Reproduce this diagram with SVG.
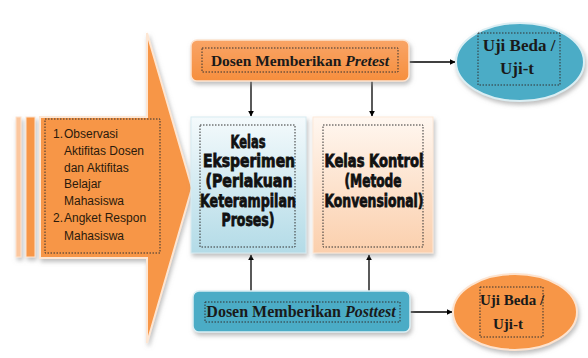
<svg xmlns="http://www.w3.org/2000/svg" width="588" height="358" viewBox="0 0 588 358">
<defs>
<style>
.ser{font-family:"Liberation Serif","Times New Roman",serif;font-weight:bold;fill:#1a1a1a;text-anchor:middle}
.cls{font-family:"DejaVu Sans Condensed","Roboto",sans-serif;font-weight:bold;font-size:18px;fill:#111;stroke:#111;stroke-width:0.8;text-anchor:middle}
.lft{font-family:"Liberation Sans",Arial,sans-serif;font-size:12px;fill:#2a1a0c}
.dot{fill:none;stroke:#333;stroke-width:1;stroke-dasharray:1.5 1.5}
.con{stroke:#000;stroke-width:1.3;fill:none;marker-end:url(#ah)}
</style>
<marker id="ah" viewBox="0 0 10 10" refX="9" refY="5" markerWidth="6" markerHeight="6" orient="auto" markerUnits="userSpaceOnUse">
<path d="M0,0 L10,5 L0,10 z" fill="#000"/>
</marker>
<linearGradient id="gBlue" x1="0" y1="0" x2="0" y2="1">
<stop offset="0" stop-color="#f4fafc"/><stop offset="1" stop-color="#b3dbe7"/>
</linearGradient>
<linearGradient id="gPeach" x1="0" y1="0" x2="0" y2="1">
<stop offset="0" stop-color="#fff7f0"/><stop offset="1" stop-color="#fbcfac"/>
</linearGradient>
<linearGradient id="gOr" x1="0" y1="0" x2="0" y2="1">
<stop offset="0" stop-color="#f9a466"/><stop offset="1" stop-color="#f68f3e"/>
</linearGradient>
<filter id="sh" x="-10%" y="-10%" width="125%" height="135%">
<feDropShadow dx="1.5" dy="3" stdDeviation="2" flood-color="#8a8a8a" flood-opacity="0.55"/>
</filter>
</defs>
<rect width="588" height="358" fill="#ffffff"/>

<g id="big-arrow" filter="url(#sh)">
<rect x="16" y="117" width="5" height="140" fill="#fbc79f" stroke="#fde3cf" stroke-width="1"/>
<rect x="26" y="117" width="9" height="140" fill="#f79646" stroke="#fde3cf" stroke-width="1"/>
<polygon points="40,117 147,117 147,33 192,188 147,343 147,258 40,258" fill="#f79646" stroke="#fde6d3" stroke-width="2"/>
</g>

<g id="left-text">
<rect class="dot" x="45" y="119" width="115" height="134"/>
<text class="lft" x="53" y="138">1.</text>
<text class="lft" x="64" y="138">Observasi</text>
<text class="lft" x="64" y="155">Aktifitas Dosen</text>
<text class="lft" x="64" y="172">dan Aktifitas</text>
<text class="lft" x="64" y="188">Belajar</text>
<text class="lft" x="64" y="205">Mahasiswa</text>
<text class="lft" x="53" y="222">2.</text>
<text class="lft" x="64" y="222">Angket Respon</text>
<text class="lft" x="64" y="240">Mahasiswa</text>
</g>

<g id="connectors">
<line class="con" x1="251" y1="81" x2="251" y2="116"/>
<line class="con" x1="372" y1="81" x2="372" y2="116"/>
<line class="con" x1="251" y1="291" x2="251" y2="255"/>
<line class="con" x1="369" y1="291" x2="369" y2="255"/>
<line class="con" x1="409" y1="62" x2="455" y2="62"/>
<line class="con" x1="410" y1="312" x2="452" y2="312"/>
</g>

<g id="pretest">
<rect x="191" y="40" width="218" height="41" rx="6" fill="url(#gOr)" stroke="#fde3cf" stroke-width="1.5" filter="url(#sh)"/>
<rect class="dot" x="202" y="48" width="196" height="24"/>
<text class="ser" x="300" y="66" font-size="15.5">Dosen Memberikan <tspan font-style="italic">Pretest</tspan></text>
</g>

<g id="eksperimen">
<rect x="191" y="117" width="115" height="136" fill="url(#gBlue)" stroke="#d7ebf1" stroke-width="1" filter="url(#sh)"/>
<rect class="dot" x="200" y="125" width="95" height="122"/>
<text class="cls" x="248" y="148" textLength="35" lengthAdjust="spacingAndGlyphs">Kelas</text>
<text class="cls" x="249" y="167" textLength="92" lengthAdjust="spacingAndGlyphs">Eksperimen</text>
<text class="cls" x="249" y="187" textLength="87" lengthAdjust="spacingAndGlyphs">(Perlakuan</text>
<text class="cls" x="248" y="207" textLength="96" lengthAdjust="spacingAndGlyphs">Keterampilan</text>
<text class="cls" x="248" y="226" textLength="53" lengthAdjust="spacingAndGlyphs">Proses)</text>
</g>

<g id="kontrol">
<rect x="313" y="117" width="120" height="136" fill="url(#gPeach)" stroke="#fde9d9" stroke-width="1" filter="url(#sh)"/>
<rect class="dot" x="323" y="125" width="100" height="122"/>
<text class="cls" x="374" y="167" textLength="99" lengthAdjust="spacingAndGlyphs">Kelas Kontrol</text>
<text class="cls" x="373" y="187" textLength="57" lengthAdjust="spacingAndGlyphs">(Metode</text>
<text class="cls" x="374" y="207" textLength="99" lengthAdjust="spacingAndGlyphs">Konvensional)</text>
</g>

<g id="posttest">
<rect x="193" y="291" width="217" height="41" rx="6" fill="#4bacc6" stroke="#dbeef3" stroke-width="1.5" filter="url(#sh)"/>
<rect class="dot" x="205" y="302" width="195" height="20"/>
<text class="ser" x="301" y="317" font-size="16">Dosen Memberikan <tspan font-style="italic">Posttest</tspan></text>
</g>

<g id="uji-top">
<ellipse cx="520" cy="62" rx="64" ry="39" fill="#4bacc6" stroke="#dbeef3" stroke-width="2" filter="url(#sh)"/>
<rect class="dot" x="478" y="33" width="82" height="52"/>
<text class="ser" x="519" y="51" font-size="17">Uji Beda /</text>
<text class="ser" x="517" y="74" font-size="17">Uji-t</text>
</g>

<g id="uji-bottom">
<ellipse cx="515" cy="312" rx="62" ry="38" fill="#f79646" stroke="#fde3cf" stroke-width="2" filter="url(#sh)"/>
<rect class="dot" x="480" y="287" width="63" height="50"/>
<text class="ser" x="512" y="305" font-size="15">Uji Beda /</text>
<text class="ser" x="508" y="329" font-size="15">Uji-t</text>
</g>
</svg>
